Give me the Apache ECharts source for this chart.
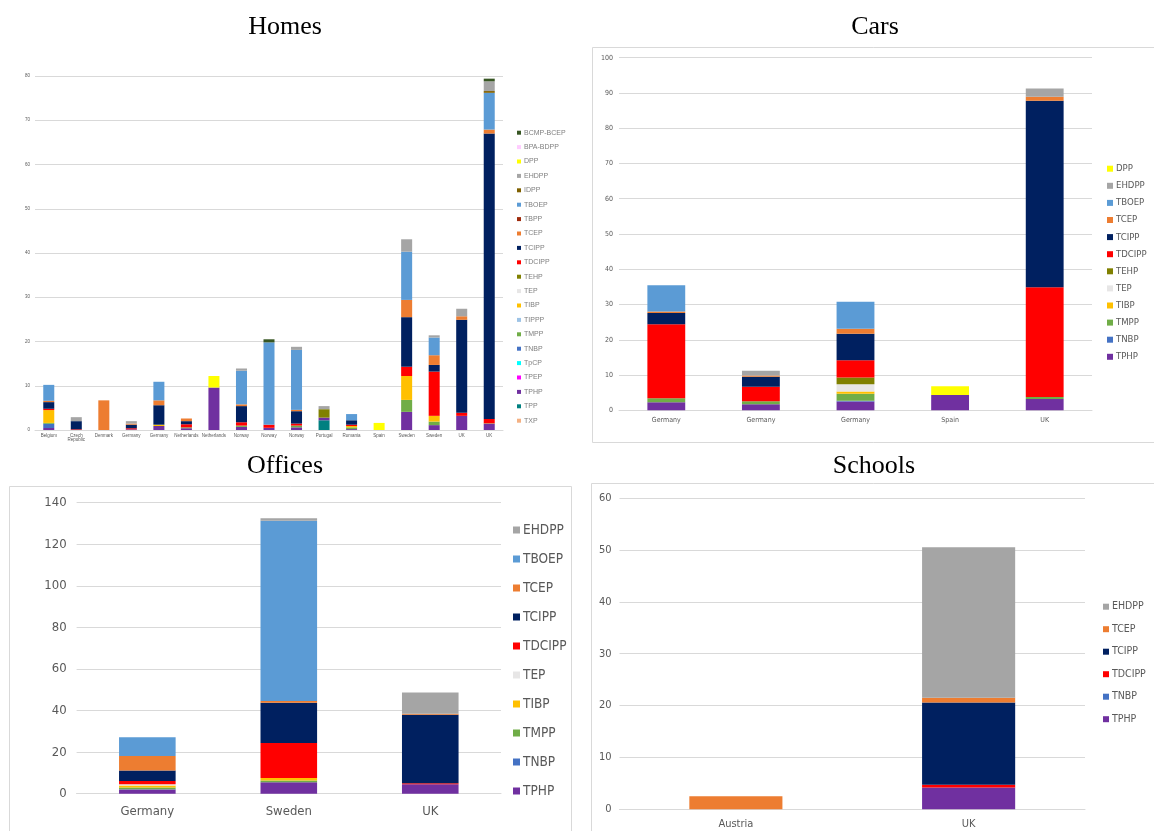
<!DOCTYPE html>
<html>
<head>
<meta charset="utf-8">
<script src="https://cdn.jsdelivr.net/npm/echarts@6/dist/echarts.min.js"></script>
<style>
html,body{margin:0;padding:0;background:#fff;}
#chart{width:1154px;height:831px;}
</style>
</head>
<body>
<div id="chart"></div>
<script>
// ---------------- DATA ----------------
// Homes
const homesCategories = ['Belgium','Czech\nRepublic','Denmark','Germany','Germany','Netherlands','Netherlands','Norway','Norway','Norway','Portugal','Romania','Spain','Sweden','Sweden','UK','UK'];
const homesTXP      = [];
const homesTPP      = [0,0,0,0,0,0,0,0,0,0,2.2,0,0,0,0,0,0];
const homesTPHP     = [0.45,0,0,0.15,0.9,0.4,9.6,0.7,0.5,0.6,0.6,0.2,0,4.1,1.1,3.2,1.4];
const homesTPEP     = [];
const homesTpCP     = [];
const homesTNBP     = [0.95,0,0,0,0,0,0,0,0,0,0,0,0,0,0,0,0];
const homesTMPP     = [0.2,0,0,0,0,0.2,0,0.3,0,0.4,0,0.4,0,2.7,0.8,0,0.1];
const homesTIPPP    = [];
const homesTIBP     = [2.9,0,0,0,0.3,0,0,0,0,0,0,0.3,0,5.4,1.3,0,0];
const homesTEP      = [];
const homesTEHP     = [0,0,0,0,0,0,0,0,0,0,1.9,0,0,0,0,0,0];
const homesTDCIPP   = [0.3,0.15,0,0.25,0,0.7,0,0.75,0.7,0.45,0,0.3,0,2.1,10.0,0.7,1.0];
const homesTCIPP    = [1.5,1.85,0,0.8,4.4,0.7,0,3.65,0,2.8,0,1.0,0,11.2,1.5,21.0,64.5];
const homesTCEP     = [0.3,0,6.7,0.25,1.1,0.6,0,0.4,0,0.3,0,0,0,3.9,2.2,0.8,0.9];
const homesTBPP     = [];
const homesTBOEP    = [3.6,0,0,0,4.2,0,0,7.6,18.6,13.55,0,1.4,0,10.9,4.0,0,8.3];
const homesIDPP     = [0,0,0,0,0,0,0,0,0,0,0,0,0,0,0,0,0.4];
const homesEHDPP    = [0,0.9,0,0.55,0,0,0,0.5,0,0.7,0.7,0,0,2.8,0.5,1.7,2.2];
const homesDPP      = [0,0,0,0,0,0,2.6,0,0,0,0,0,1.6,0,0,0,0];
const homesBPABDPP  = [];
const homesBCMPBCEP = [0,0,0,0,0,0,0,0,0.7,0,0,0,0,0,0,0,0.6];
const homesTicks    = [0,10,20,30,40,50,60,70,80];

// Cars
const carsCategories = ['Germany','Germany','Germany','Spain','UK'];
const carsTPHP   = [2.3,1.7,2.5,4.35,3.2];
const carsTNBP   = [0,0,0.2,0,0];
const carsTMPP   = [1.1,0.9,2.0,0,0.6];
const carsTIBP   = [0,0,0.6,0,0];
const carsTEP    = [0,0,2.1,0,0];
const carsTEHP   = [0,0,1.9,0,0];
const carsTDCIPP = [21.0,4.1,4.9,0,31.1];
const carsTCIPP  = [3.2,2.8,7.5,0,52.9];
const carsTCEP   = [0.4,0.4,1.4,0,1.1];
const carsTBOEP  = [7.5,0,7.7,0,0];
const carsEHDPP  = [0,1.3,0,0,2.4];
const carsDPP    = [0,0,0,2.45,0];
const carsTicks  = [0,10,20,30,40,50,60,70,80,90,100];

// Offices
const officesCategories = ['Germany','Sweden','UK'];
const officesTPHP   = [2.0,5.5,4.5];
const officesTNBP   = [0.2,0,0];
const officesTMPP   = [0.8,0.8,0];
const officesTIBP   = [1.0,1.2,0];
const officesTEP    = [0.5,0,0];
const officesTDCIPP = [1.6,16.9,0.5];
const officesTCIPP  = [5.1,19.4,33.0];
const officesTCEP   = [6.9,0.8,0.5];
const officesTBOEP  = [9.0,86.7,0];
const officesEHDPP  = [0,1.2,10.2];
const officesTicks  = [0,20,40,60,80,100,120,140];

// Schools
const schoolsCategories = ['Austria','UK'];
const schoolsTPHP   = [0,4.2];
const schoolsTNBP   = [0,0];
const schoolsTDCIPP = [0,0.55];
const schoolsTCIPP  = [0,15.85];
const schoolsTCEP   = [2.5,0.9];
const schoolsEHDPP  = [0,29.0];
const schoolsTicks  = [0,10,20,30,40,50,60];

// ---------------- STYLE ----------------
const colors = {
  'BCMP-BCEP':'#375623','BPA-BDPP':'#ffccff','DPP':'#ffff00','EHDPP':'#a5a5a5','IDPP':'#7f6000',
  'TBOEP':'#5b9bd5','TBPP':'#9e2a0b','TCEP':'#ed7d31','TCIPP':'#002060','TDCIPP':'#ff0000',
  'TEHP':'#808000','TEP':'#e7e6e6','TIBP':'#ffc000','TIPPP':'#9dc3e6','TMPP':'#70ad47',
  'TNBP':'#4472c4','TpCP':'#00ffff','TPEP':'#ff00ff','TPHP':'#7030a0','TPP':'#008080','TXP':'#f4b183'
};
const NARROW = "'Liberation Sans Narrow','DejaVu Sans Condensed','Roboto',sans-serif";
const SANS = "'Liberation Sans','Roboto',sans-serif";

// stacking order bottom -> top
const panels = [
  {key:'homes', cats:homesCategories, ticks:homesTicks, series:[
    ['TXP',homesTXP],['TPP',homesTPP],['TPHP',homesTPHP],['TPEP',homesTPEP],['TpCP',homesTpCP],
    ['TNBP',homesTNBP],['TMPP',homesTMPP],['TIPPP',homesTIPPP],['TIBP',homesTIBP],['TEP',homesTEP],
    ['TEHP',homesTEHP],['TDCIPP',homesTDCIPP],['TCIPP',homesTCIPP],['TCEP',homesTCEP],['TBPP',homesTBPP],
    ['TBOEP',homesTBOEP],['IDPP',homesIDPP],['EHDPP',homesEHDPP],['DPP',homesDPP],['BPA-BDPP',homesBPABDPP],
    ['BCMP-BCEP',homesBCMPBCEP]]},
  {key:'cars', cats:carsCategories, ticks:carsTicks, series:[
    ['TPHP',carsTPHP],['TNBP',carsTNBP],['TMPP',carsTMPP],['TIBP',carsTIBP],['TEP',carsTEP],['TEHP',carsTEHP],
    ['TDCIPP',carsTDCIPP],['TCIPP',carsTCIPP],['TCEP',carsTCEP],['TBOEP',carsTBOEP],['EHDPP',carsEHDPP],['DPP',carsDPP]]},
  {key:'offices', cats:officesCategories, ticks:officesTicks, series:[
    ['TPHP',officesTPHP],['TNBP',officesTNBP],['TMPP',officesTMPP],['TIBP',officesTIBP],['TEP',officesTEP],
    ['TDCIPP',officesTDCIPP],['TCIPP',officesTCIPP],['TCEP',officesTCEP],['TBOEP',officesTBOEP],['EHDPP',officesEHDPP]]},
  {key:'schools', cats:schoolsCategories, ticks:schoolsTicks, series:[
    ['TPHP',schoolsTPHP],['TNBP',schoolsTNBP],['TDCIPP',schoolsTDCIPP],['TCIPP',schoolsTCIPP],['TCEP',schoolsTCEP],['EHDPP',schoolsEHDPP]]}
];

const layout = {
  homes:   {grid:{left:35,right:651,top:76,bottom:401}, xFont:4.5, yFont:4.5, xMargin:3, yMargin:5, font:SANS,
            legend:{left:517,top:128.2,itemWidth:4,itemHeight:4,itemGap:5.4,fontSize:7,lineHeight:9,font:SANS,color:'#7f7f7f'}},
  cars:    {grid:{left:619,right:62,top:57.7,bottom:420.7}, xFont:7, yFont:7, xMargin:6, yMargin:6, font:NARROW,
            legend:{left:1107,top:163.7,itemWidth:6,itemHeight:6,itemGap:7.1,fontSize:9.5,lineHeight:10,font:NARROW,color:'#595959'}},
  offices: {grid:{left:76.6,right:653,top:502.7,bottom:37.3}, xFont:13, yFont:13, xMargin:11, yMargin:10, font:NARROW,
            legend:{left:513,top:523,itemWidth:7,itemHeight:7,itemGap:15,fontSize:13.5,lineHeight:14,font:NARROW,color:'#595959'}},
  schools: {grid:{left:619.5,right:69,top:498,bottom:21.7}, xFont:11, yFont:11, xMargin:9, yMargin:8, font:NARROW,
            legend:{left:1103,top:600.7,itemWidth:6,itemHeight:6,itemGap:10.5,fontSize:10.5,lineHeight:12,font:NARROW,color:'#595959'}}
};

const grids = [], xAxes = [], yAxes = [], legends = [], series = [];
panels.forEach((p, i) => {
  const L = layout[p.key];
  grids.push(Object.assign({containLabel:false}, L.grid));
  xAxes.push({
    type:'category', gridIndex:i, data:p.cats,
    axisLine:{show:true, lineStyle:{color:'#d9d9d9', width:1}},
    axisTick:{show:false},
    axisLabel:{interval:0, fontSize:L.xFont, color:'#595959', fontFamily:L.font, margin:L.xMargin, lineHeight:L.xFont*1.05}
  });
  yAxes.push({
    type:'value', gridIndex:i, min:p.ticks[0], max:p.ticks[p.ticks.length-1],
    interval:p.ticks[1]-p.ticks[0],
    axisLine:{show:false}, axisTick:{show:false},
    splitLine:{show:true, lineStyle:{color:'#d9d9d9', width:1}},
    axisLabel:{fontSize:L.yFont, color:'#595959', fontFamily:L.font, margin:L.yMargin}
  });
  const names = p.series.map(s => s[0]);
  legends.push({
    orient:'vertical', left:L.legend.left, top:L.legend.top, padding:0,
    itemWidth:L.legend.itemWidth, itemHeight:L.legend.itemHeight, itemGap:L.legend.itemGap,
    icon:'rect', selectedMode:false,
    data:names.slice().reverse(),
    textStyle:{fontSize:L.legend.fontSize, lineHeight:L.legend.lineHeight, color:L.legend.color, fontFamily:L.legend.font, padding:[0,0,0,-2]}
  });
  p.series.forEach(([name, data]) => {
    series.push({
      type:'bar', name:name, xAxisIndex:i, yAxisIndex:i, stack:p.key,
      data:data, barWidth:'40%',
      itemStyle:{color:colors[name]},
      emphasis:{disabled:true}, animation:false
    });
  });
});

const titleFont = "'Liberation Serif','DejaVu Serif',serif";
const option = {
  backgroundColor:'#fff',
  animation:false,
  title:[
    {text:'Homes', left:285, top:14, textAlign:'center', padding:0, textStyle:{fontFamily:titleFont, fontSize:26, fontWeight:'normal', color:'#000'}},
    {text:'Cars', left:875, top:14, textAlign:'center', padding:0, textStyle:{fontFamily:titleFont, fontSize:26, fontWeight:'normal', color:'#000'}},
    {text:'Offices', left:285, top:453, textAlign:'center', padding:0, textStyle:{fontFamily:titleFont, fontSize:26, fontWeight:'normal', color:'#000'}},
    {text:'Schools', left:874, top:453, textAlign:'center', padding:0, textStyle:{fontFamily:titleFont, fontSize:26, fontWeight:'normal', color:'#000'}}
  ],
  graphic:[
    {type:'rect', shape:{x:592.5, y:47.5, width:600, height:395}, style:{fill:null, stroke:'#d9d9d9', lineWidth:1}, silent:true, z:-1},
    {type:'rect', shape:{x:9.5, y:486.5, width:562, height:400}, style:{fill:null, stroke:'#d9d9d9', lineWidth:1}, silent:true, z:-1},
    {type:'rect', shape:{x:591.5, y:483.5, width:600, height:400}, style:{fill:null, stroke:'#d9d9d9', lineWidth:1}, silent:true, z:-1}
  ],
  grid:grids, xAxis:xAxes, yAxis:yAxes, legend:legends, series:series
};

const chart = echarts.init(document.getElementById('chart'), null, {renderer:'canvas'});
chart.setOption(option);
</script>
</body>
</html>
